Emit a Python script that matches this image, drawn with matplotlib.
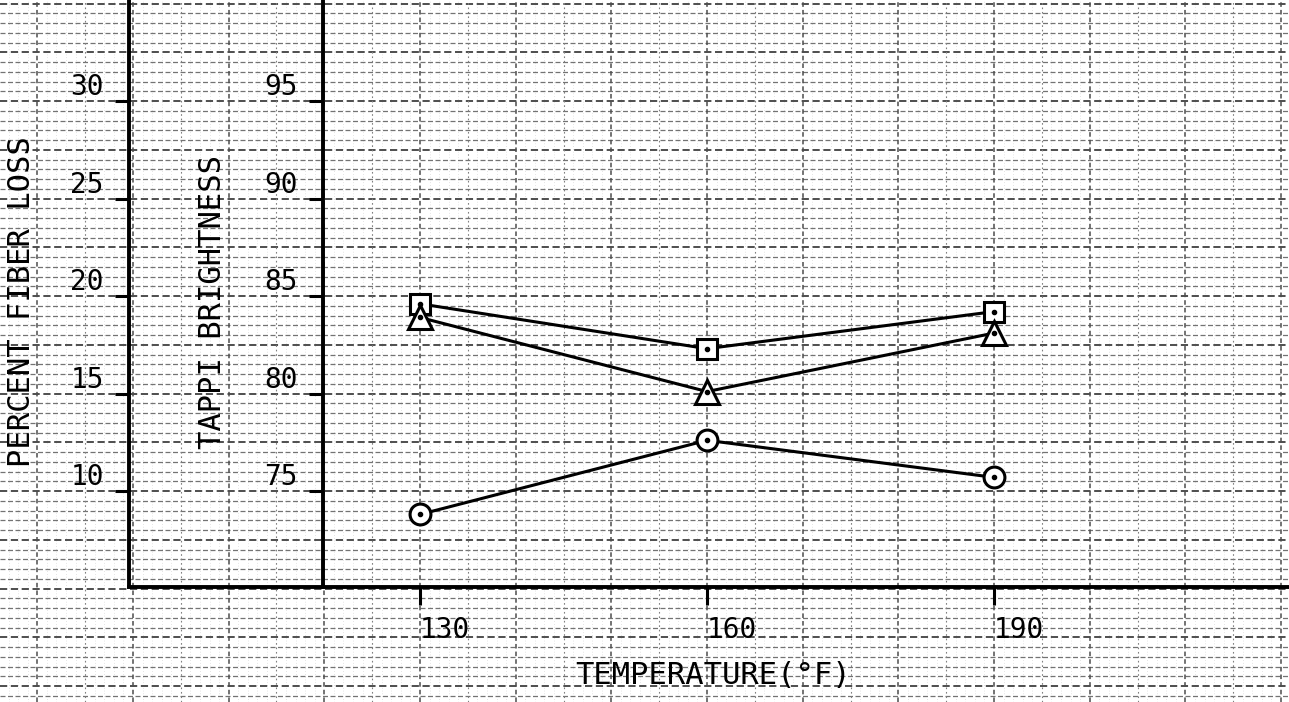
#!/usr/bin/env python3
"""Pulp brightness / fiber loss vs temperature, drawn on graph paper."""

import numpy as np
import matplotlib
matplotlib.use("Agg")
import matplotlib.pyplot as plt

# data
temperature = [130, 160, 190]
brightness_square = [84.6, 82.3, 84.2]
brightness_triangle = [83.9, 80.1, 83.1]
fiber_loss = [8.8, 12.6, 10.7]

brightness_ticks = [75, 80, 85, 90, 95]
fiber_ticks = [10, 15, 20, 25, 30]
temp_ticks = [130, 160, 190]

# figure mapping (the whole figure is one sheet of graph paper)
XLIM = (86.10, 220.83)
YLIM = (64.18, 100.18)
FIBER_OFFSET = 65.0          # fiber loss 10 sits level with brightness 75
X_OUTER = 99.58              # fiber loss axis position (deg F)
X_INNER = 119.86             # brightness axis position (deg F)
Y_BOTTOM = 70.08             # temperature axis position (brightness units)


def draw_paper(ax):
    for y in np.arange(64.5, 100.5, 0.5):
        heavy = abs(((y - 75) / 2.5) - round((y - 75) / 2.5)) < 1e-6
        ax.axhline(y, color="0.25" if heavy else "0.45", lw=1.3 if heavy else 0.9,
                   ls=(0, (4, 2)), zorder=0.5)
    for x in np.arange(87, 221, 1):
        if x % 5 == 0:
            heavy = x % 10 == 0
            ax.axvline(x, color="0.3" if heavy else "0.5", lw=1.1 if heavy else 0.8,
                       ls=(0, (3, 2)) if heavy else (0, (1.5, 2.5)), zorder=0.5)
        else:
            ax.axvline(x, color="0.8", lw=0.5, ls=(0, (1, 3)), zorder=0.4)


def main():
    plt.rcParams["font.family"] = ["DejaVu Sans Mono", "DejaVu Sans"]
    plt.rcParams["font.size"] = 20

    fig = plt.figure(figsize=(12.89, 7.02), dpi=100)
    ax = fig.add_axes([0, 0, 1, 1])
    ax.set_xlim(*XLIM)
    ax.set_ylim(*YLIM)
    draw_paper(ax)

    for side in ("top", "right"):
        ax.spines[side].set_visible(False)
    ax.spines["left"].set_position(("data", X_INNER))
    ax.spines["left"].set_bounds(Y_BOTTOM, YLIM[1])
    ax.spines["bottom"].set_position(("data", Y_BOTTOM))
    ax.spines["bottom"].set_bounds(X_OUTER, XLIM[1])
    for side in ("left", "bottom"):
        ax.spines[side].set_linewidth(2.8)

    ax.set_yticks(brightness_ticks, labels=[str(t) for t in brightness_ticks], va="bottom")
    ax.set_xticks(temp_ticks, labels=[str(t) for t in temp_ticks], ha="left")
    ax.tick_params(axis="y", direction="out", length=10, width=2.2, pad=8)
    ax.tick_params(axis="x", direction="out", length=13, width=2.2, pad=8)

    ax.set_xlabel("TEMPERATURE(°F)", fontsize=22, va="center")
    ax.xaxis.set_label_coords(0.553, 0.038)
    ax.set_ylabel("TAPPI BRIGHTNESS", fontsize=22, va="center")
    ax.yaxis.set_label_coords(0.165, 0.570)

    ax2 = ax.twinx()
    ax2.set_ylim(YLIM[0] - FIBER_OFFSET, YLIM[1] - FIBER_OFFSET)
    for side in ("top", "right", "bottom"):
        ax2.spines[side].set_visible(False)
    ax2.spines["left"].set_visible(True)
    ax2.spines["left"].set_position(("data", X_OUTER))
    ax2.spines["left"].set_bounds(Y_BOTTOM - FIBER_OFFSET, YLIM[1] - FIBER_OFFSET)
    ax2.spines["left"].set_linewidth(2.8)
    ax2.yaxis.tick_left()
    ax2.yaxis.set_label_position("left")
    ax2.set_yticks(fiber_ticks, labels=[str(t) for t in fiber_ticks], va="bottom")
    ax2.tick_params(axis="y", direction="out", length=10, width=2.2, pad=8)
    ax2.set_ylabel("PERCENT FIBER LOSS", fontsize=22, va="center")
    ax2.yaxis.set_label_coords(0.017, 0.570)

    line_kw = dict(color="black", lw=2.2, mfc="white", mec="black", mew=2.2, zorder=3)
    ax.plot(temperature, brightness_square, marker="s", ms=14, **line_kw)
    ax.plot(temperature, brightness_triangle, marker="^", ms=17, **line_kw)
    ax2.plot(temperature, fiber_loss, marker="o", ms=15, **line_kw)

    dot_kw = dict(ls="none", marker="o", ms=3, color="black", zorder=4)
    ax.plot(temperature, brightness_square, **dot_kw)
    ax.plot(temperature, brightness_triangle, **dot_kw)
    ax2.plot(temperature, fiber_loss, **dot_kw)

    fig.savefig("out.png", dpi=100)


if __name__ == "__main__":
    main()
